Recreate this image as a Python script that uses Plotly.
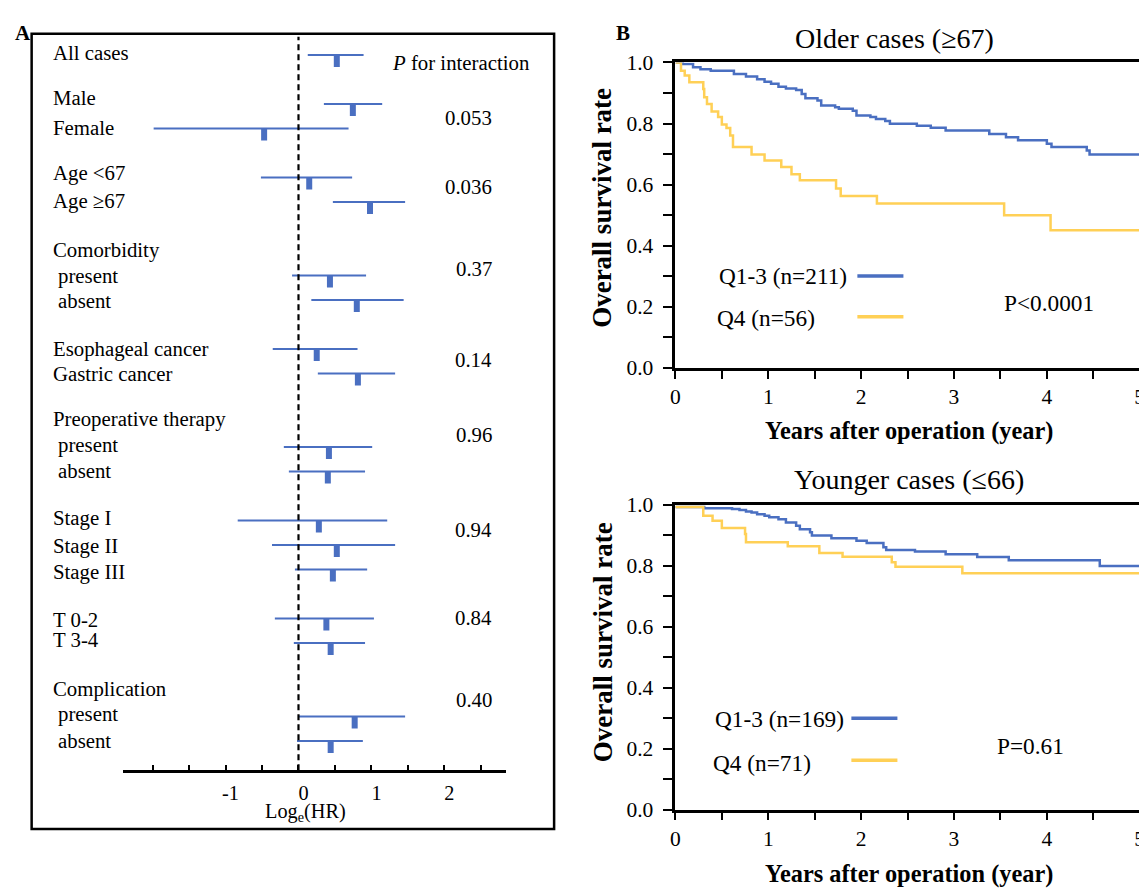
import plotly.graph_objects as go

# Figure placed at the page's default 8px body margin.
M = 8
W, H = 1160, 905

# Measured mapping between requested page position and photographed position
SX, BX = 0.9905, 5.45
SY, BY = 0.977, 10.3
FS = 1.015  # font compensation


def px(t):
    p = (t - BX) / SX
    return min(max((p - M) / W, 0.0), 1.0)


def py(t):
    p = (t - BY) / SY
    return min(max(1 - (p - M) / H, 0.0), 1.0)


FONT = "Liberation Serif"
BLUE = "#4A6FC1"
YELLOW = "#FFD056"

# ---------------- Panel A: forest plot data ----------------
labels = ["All cases", "Male", "Female", "Age <67", "Age ≥67", "Comorbidity", "present", "absent",
          "Esophageal cancer", "Gastric cancer", "Preoperative therapy", "present", "absent",
          "Stage I", "Stage II", "Stage III", "T 0-2", "T 3-4", "Complication", "present", "absent"]
label_rows = [-0.11, 1.74, 2.96, 4.81, 5.97, 7.96, 9.02, 10.03, 11.98, 13.0, 14.87, 15.93, 16.94,
              18.9, 20.02, 21.09, 23.05, 23.85, 25.88, 26.91, 27.97]
label_indent = [0, 0, 0, 0, 0, 0, 1, 1, 0, 0, 0, 1, 1, 0, 0, 0, 0, 0, 0, 1, 1]

ci_rows = [0, 2, 3, 5, 6, 9, 10, 12, 13, 16, 17, 19, 20, 21, 23, 24, 27, 28]
loghr = [0.525, 0.745, -0.471, 0.147, 0.980, 0.431, 0.799, 0.250, 0.814, 0.417, 0.402,
         0.279, 0.525, 0.471, 0.382, 0.441, 0.770, 0.441]
ci_low = [0.127, 0.348, -1.985, -0.515, 0.471, -0.088, 0.176, -0.353, 0.265, -0.201, -0.132,
          -0.833, -0.363, -0.049, -0.324, -0.064, 0.000, -0.020]
ci_high = [0.892, 1.147, 0.686, 0.735, 1.461, 0.926, 1.441, 0.809, 1.324, 1.010, 0.912,
           1.216, 1.324, 0.941, 1.034, 0.912, 1.461, 0.882]

p_rows = [2.54, 5.38, 8.7, 12.43, 15.48, 19.35, 22.94, 26.29]
p_values = ["0.053", "0.036", "0.37", "0.14", "0.96", "0.94", "0.84", "0.40"]

forest_tickvals = [-2, -1.5, -1, -0.5, 0, 0.5, 1, 1.5, 2, 2.5]
forest_ticktext = [" ", " ", "-1", " ", "0", " ", "1", " ", "2", " "]

# ---------------- Panel B: Kaplan-Meier data ----------------
old_q13_t = [0, 0.08, 0.19, 0.27, 0.38, 0.63, 0.76, 0.88, 0.96, 1.03, 1.11, 1.19, 1.30, 1.36, 1.40,
             1.53, 1.57, 1.72, 1.76, 1.91, 1.95, 2.10, 2.16, 2.26, 2.31, 2.60, 2.75, 2.91, 3.38,
             3.56, 3.69, 4.00, 4.05, 4.43, 4.46, 5.0]
old_q13_s = [1.0, 0.995, 0.984, 0.978, 0.973, 0.962, 0.954, 0.945, 0.937, 0.930, 0.920, 0.915,
             0.910, 0.897, 0.883, 0.875, 0.859, 0.853, 0.848, 0.842, 0.826, 0.821, 0.815, 0.808,
             0.799, 0.793, 0.786, 0.777, 0.766, 0.755, 0.745, 0.734, 0.723, 0.712, 0.699, 0.699]

old_q4_t = [0, 0.06, 0.10, 0.15, 0.30, 0.31, 0.34, 0.39, 0.46, 0.50, 0.55, 0.59, 0.62, 0.82, 0.96,
            1.14, 1.25, 1.34, 1.73, 1.78, 2.17, 3.54, 4.04, 5.0]
old_q4_s = [1.0, 0.973, 0.957, 0.935, 0.913, 0.886, 0.864, 0.839, 0.821, 0.797, 0.785, 0.761,
            0.723, 0.699, 0.679, 0.658, 0.634, 0.614, 0.587, 0.563, 0.538, 0.500, 0.451, 0.451]

young_q13_t = [0, 0.31, 0.61, 0.69, 0.76, 0.82, 0.88, 0.96, 1.01, 1.11, 1.19, 1.30, 1.34, 1.45,
               1.47, 1.68, 1.95, 2.06, 2.24, 2.27, 2.58, 2.91, 3.25, 3.59, 4.57, 5.0]
young_q13_s = [0.993, 0.989, 0.986, 0.983, 0.978, 0.975, 0.969, 0.964, 0.959, 0.953, 0.942, 0.931,
               0.920, 0.910, 0.899, 0.890, 0.882, 0.875, 0.861, 0.852, 0.847, 0.838, 0.829, 0.818,
               0.799, 0.799]

young_q4_t = [0, 0.30, 0.40, 0.50, 0.75, 0.76, 1.21, 1.55, 1.80, 2.33, 2.37, 3.09, 5.0]
young_q4_s = [0.993, 0.964, 0.948, 0.924, 0.904, 0.877, 0.864, 0.842, 0.830, 0.812, 0.797, 0.776, 0.776]

km_ytickvals = [0, 0.1, 0.2, 0.3, 0.4, 0.5, 0.6, 0.7, 0.8, 0.9, 1.0]
km_yticktext = ["0.0", " ", "0.2", " ", "0.4", " ", "0.6", " ", "0.8", " ", "1.0"]
km_xtickvals = [0, 0.5, 1, 1.5, 2, 2.5, 3, 3.5, 4, 4.5, 5]
km_xticktext = ["0", " ", "1", " ", "2", " ", "3", " ", "4", " ", "5"]

fig = go.Figure()

# forest CI lines and point markers
cx, cy, mx, my = [], [], [], []
for r, e, lo, hi in zip(ci_rows, loghr, ci_low, ci_high):
    cx += [lo, hi, None]
    cy += [r, r, None]
    mx += [e, e, None]
    my += [r, r + 0.49, None]
fig.add_trace(go.Scatter(x=cx, y=cy, mode="lines", line=dict(color=BLUE, width=2),
                         xaxis="x", yaxis="y", showlegend=False, hoverinfo="skip"))
fig.add_trace(go.Scatter(x=mx, y=my, mode="lines", line=dict(color=BLUE, width=6),
                         xaxis="x", yaxis="y", showlegend=False, hoverinfo="skip"))

# KM curves
for t, s, col, xa, ya in [
    (old_q13_t, old_q13_s, BLUE, "x2", "y2"),
    (old_q4_t, old_q4_s, YELLOW, "x2", "y2"),
    (young_q13_t, young_q13_s, BLUE, "x3", "y3"),
    (young_q4_t, young_q4_s, YELLOW, "x3", "y3"),
]:
    fig.add_trace(go.Scatter(x=t, y=s, mode="lines", line=dict(color=col, width=2.5, shape="hv"),
                             xaxis=xa, yaxis=ya, showlegend=False, hoverinfo="skip"))

tickfont = dict(family=FONT, size=20 * FS, color="black")
km_tickfont = dict(family=FONT, size=21.5, color="black")

# right frame kept just inside the visible window
km_right = (1144.5 - M) / W

km_x = dict(range=[0, 5], showline=True, linecolor="black", linewidth=2.5, mirror=True,
            ticks="outside", ticklen=8, tickwidth=2, tickcolor="black",
            tickvals=km_xtickvals, ticktext=km_xticktext, tickfont=km_tickfont,
            showgrid=False, zeroline=False, domain=[px(675.2), km_right])
km_y = dict(range=[0, 1], showline=True, linecolor="black", linewidth=2.5, mirror=True,
            ticks="outside", ticklen=10, tickwidth=2, tickcolor="black",
            tickvals=km_ytickvals, ticktext=km_yticktext, tickfont=km_tickfont,
            ticklabelstandoff=5, showgrid=False, zeroline=False)

fig.update_layout(
    width=W, height=H,
    margin=dict(l=0, r=0, t=0, b=0),
    paper_bgcolor="white", plot_bgcolor="white",
    font=dict(family=FONT, color="black"),
    xaxis=dict(domain=[px(123.2), px(506.4)], range=[-2.406, 2.85], anchor="y",
               showline=True, linecolor="black", linewidth=2.5,
               ticks="inside", ticklen=5, tickwidth=2, tickcolor="black",
               tickvals=forest_tickvals, ticktext=forest_ticktext, tickfont=tickfont,
               ticklabelshift=5, ticklabelstandoff=3, showgrid=False, zeroline=False),
    yaxis=dict(domain=[py(772), py(36)], range=[29.19, -0.744], visible=False,
               showgrid=False, zeroline=False),
    xaxis2=dict(km_x, anchor="y2"),
    yaxis2=dict(km_y, anchor="x2", domain=[py(368.3), py(61.7)]),
    xaxis3=dict(km_x, anchor="y3"),
    yaxis3=dict(km_y, anchor="x3", domain=[py(811.7), py(505.7)]),
)

shapes = [
    # forest frame
    dict(type="rect", xref="paper", yref="paper", x0=px(32), x1=px(554), y0=py(831), y1=py(33),
         line=dict(color="black", width=2.5), fillcolor="rgba(0,0,0,0)", layer="below"),
    # reference line at 0
    dict(type="line", xref="x", yref="y domain", x0=0, x1=0, y0=0, y1=1,
         line=dict(color="black", width=2.2, dash="6px,4px")),
    # legend keys
    dict(type="line", xref="paper", yref="paper", x0=px(857), x1=px(903), y0=py(276), y1=py(276),
         line=dict(color=BLUE, width=3.5)),
    dict(type="line", xref="paper", yref="paper", x0=px(857), x1=px(903), y0=py(317), y1=py(317),
         line=dict(color=YELLOW, width=3.5)),
    dict(type="line", xref="paper", yref="paper", x0=px(851), x1=px(897), y0=py(720), y1=py(720),
         line=dict(color=BLUE, width=3.5)),
    dict(type="line", xref="paper", yref="paper", x0=px(851), x1=px(897), y0=py(762), y1=py(762),
         line=dict(color=YELLOW, width=3.5)),
]

ann = []


def add_text(text, x, y, size, xanchor="center", yanchor="middle", bold=False, angle=0,
             xref="paper", yref="paper"):
    t = f"<b>{text}</b>" if bold else text
    ann.append(dict(text=t, x=x, y=y, xref=xref, yref=yref, xanchor=xanchor, yanchor=yanchor,
                    showarrow=False, textangle=angle,
                    font=dict(family=FONT, size=size, color="black")))


add_text("A", px(11), 1.0, 21, xanchor="left", yanchor="top", bold=True)
add_text("B", px(614), 1.0, 21, xanchor="left", yanchor="top", bold=True)

# forest labels
for lab, r, ind in zip(labels, label_rows, label_indent):
    ann.append(dict(text=lab, x=px(51 + 5.5 * ind), y=r, xref="paper", yref="y",
                    xanchor="left", yanchor="middle", showarrow=False,
                    font=dict(family=FONT, size=20.5 * FS, color="black")))
ann.append(dict(text="<i>P</i> for interaction", x=px(532), y=0.3, xref="paper", yref="y",
                xanchor="right", yanchor="middle", showarrow=False,
                font=dict(family=FONT, size=20.5 * FS, color="black")))
for pv, r in zip(p_values, p_rows):
    ann.append(dict(text=pv, x=px(494), y=r, xref="paper", yref="y",
                    xanchor="right", yanchor="middle", showarrow=False,
                    font=dict(family=FONT, size=20.5 * FS, color="black")))
add_text("Log<sub>e</sub>(HR)", px(305.6), py(814), 20 * FS)

# KM panels text
add_text("Older cases (≥67)", px(893.6), py(38), 28)
add_text("Younger cases (≤66)", px(909), py(480), 28)
add_text("Overall survival rate", px(602.5), py(208), 27, bold=True, angle=-90)
add_text("Overall survival rate", px(602.5), py(644), 27, bold=True, angle=-90)
add_text("Years after operation (year)", px(909), py(432), 24 * FS, bold=True)
add_text("Years after operation (year)", px(909), py(876), 24 * FS, bold=True)

add_text("Q1-3 (n=211)", px(716.5), py(276), 23.3, xanchor="left")
add_text("Q4 (n=56)", px(715), py(318), 23.3, xanchor="left")
add_text("P<0.0001", px(1048.5), py(303), 23.3)
add_text("Q1-3 (n=169)", px(713), py(720.5), 23.3, xanchor="left")
add_text("Q4 (n=71)", px(710.5), py(765), 23.3, xanchor="left")
add_text("P=0.61", px(1029.5), py(747.5), 23.3)

fig.update_layout(shapes=shapes, annotations=ann)

fig.write_html("out.html")
